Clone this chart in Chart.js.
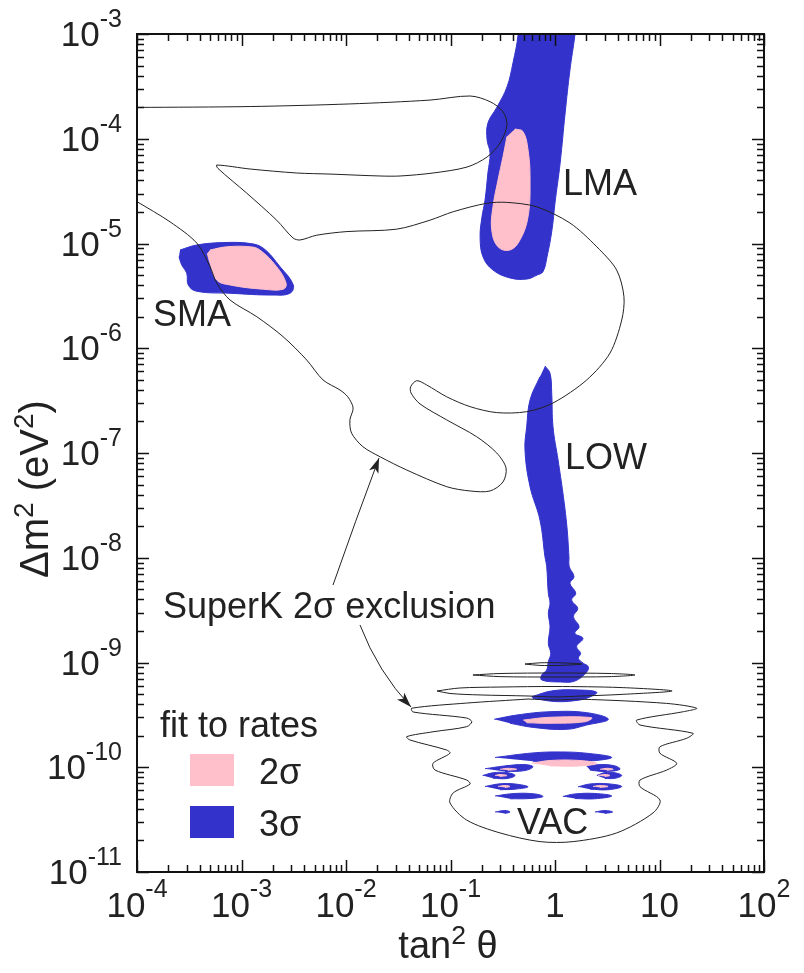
<!DOCTYPE html>
<html>
<head>
<meta charset="utf-8">
<script src="https://cdn.jsdelivr.net/npm/chart.js@4.4.1/dist/chart.umd.min.js"></script>
<style>
  body { margin: 0; background: #fff; }
  #wrap { width: 804px; height: 973px; position: relative; }
</style>
</head>
<body>
<div id="wrap"><canvas id="grafico"></canvas></div>
<script>
// ejes (tan^2 theta, delta m^2)
const xTicks = [1e-4, 1e-3, 1e-2, 1e-1, 1, 10, 100];
const xTickLabels = [['10', '-4'], ['10', '-3'], ['10', '-2'], ['10', '-1'], ['1', ''], ['10', ''], ['10', '2']];
const yTicks = [1e-3, 1e-4, 1e-5, 1e-6, 1e-7, 1e-8, 1e-9, 1e-10, 1e-11];
const yTickLabels = [['10', '-3'], ['10', '-4'], ['10', '-5'], ['10', '-6'], ['10', '-7'], ['10', '-8'], ['10', '-9'], ['10', '-10'], ['10', '-11']];

// regiones permitidas [tan2, dm2]
const smaTres = [[2.58e-4, 8.67e-6], [3.73e-4, 9.67e-6], [6.65e-4, 1.02e-5], [1.21e-3, 1.0e-5], [1.62e-3, 9.0e-6], [2.34e-3, 6.0e-6], [3.13e-3, 4.02e-6], [2.91e-3, 3.35e-6], [2e-3, 3.22e-6], [7.76e-4, 3.35e-6], [3.73e-4, 3.5e-6], [3.1e-4, 4.0e-6], [2.99e-4, 5.2e-6], [2.68e-4, 6.24e-6], [2.52e-4, 7.48e-6]];
const smaDos = [[5e-4, 8.67e-6], [7.21e-4, 9.3e-6], [1.21e-3, 9.3e-6], [1.5e-3, 8.67e-6], [2.17e-3, 6e-6], [2.67e-3, 4.17e-6], [2.51e-3, 3.66e-6], [1.62e-3, 3.66e-6], [7.76e-4, 4.02e-6], [5.79e-4, 4.48e-6], [5e-4, 6.47e-6], [4.71e-4, 8.06e-6]];
const lmaTres = [[4.43e-1, 1.4e-3], [4.43e-1, 9.78e-4], [3.96e-1, 5.29e-4], [3.47e-1, 3.12e-4], [2.79e-1, 2.01e-4], [2.28e-1, 1.41e-4], [2.24e-1, 9.73e-5], [2.39e-1, 7.31e-5], [2.28e-1, 4.71e-5], [2.14e-1, 2.6e-5], [2e-1, 1.79e-5], [1.92e-1, 1.15e-5], [2.05e-1, 7.43e-6], [2.55e-1, 5.58e-6], [3.71e-1, 4.69e-6], [5.4e-1, 4.58e-6], [6.73e-1, 5e-6], [7.67e-1, 5.38e-6], [8.38e-1, 7.43e-6], [9.36e-1, 1.35e-5], [1, 2.44e-5], [1.12, 5.86e-5], [1.25, 1.76e-4], [1.39, 4.53e-4], [1.55, 9.78e-4], [1.59, 1.4e-3]];
const lmaDos = [[4.14e-1, 1.24e-4], [4.94e-1, 1.17e-4], [5.52e-1, 7.81e-5], [5.77e-1, 4.04e-5], [5.52e-1, 1.8e-5], [4.62e-1, 1.08e-5], [3.71e-1, 8.67e-6], [2.85e-1, 9.3e-6], [2.48e-1, 1.35e-5], [2.55e-1, 2.24e-5], [2.85e-1, 4.04e-5], [3.18e-1, 6.74e-5], [3.47e-1, 1.05e-4]];
const lowTres = [[8.02e-1, 6.77e-7], [8.96e-1, 5.77e-7], [9.3e-1, 3.74e-7], [9.57e-1, 1.78e-7], [1.07, 8.57e-8], [1.19, 4.15e-8], [1.3, 1.98e-8], [1.36, 1.02e-8], [1.37, 8.22e-9], [1.52, 6.59e-9], [1.39, 5.7e-9], [1.58, 4.58e-9], [1.44, 3.95e-9], [1.65, 3.29e-9], [1.5, 2.74e-9], [1.7, 2.2e-9], [1.55, 1.9e-9], [1.85, 1.7e-9], [1.61, 1.42e-9], [1.76, 1.22e-9], [1.67, 1.1e-9], [1.87, 9.82e-10], [2.08, 9.12e-10], [2.01, 8.11e-10], [1.55, 6.65e-10], [1.12, 6.52e-10], [7.46e-1, 6.81e-10], [7.46e-1, 7.6e-10], [8.33e-1, 8.48e-10], [8.63e-1, 1.02e-9], [9.1e-1, 1.22e-9], [8.63e-1, 1.52e-9], [8.96e-1, 2.2e-9], [8.63e-1, 2.95e-9], [8.96e-1, 3.67e-9], [8.63e-1, 4.58e-9], [8.33e-1, 8.22e-9], [8.02e-1, 1.02e-8], [7.18e-1, 2.29e-8], [5.77e-1, 4.77e-8], [5.16e-1, 1.07e-7], [5.36e-1, 1.78e-7], [5.77e-1, 3.21e-7], [7.18e-1, 5.35e-7]];

// islas de vacio
const vacTres = [
  [[5.98e-1, 4.72e-10], [9.57e-1, 5.38e-10], [1.73, 5.46e-10], [2.51, 5.2e-10], [2.16, 4.69e-10], [1.73, 4.39e-10], [1.04, 4.23e-10], [6.15e-1, 4.55e-10]],
  [[2.62e-1, 2.87e-10], [4.3e-1, 3.15e-10], [8.96e-1, 3.39e-10], [2.01, 3.32e-10], [3.24, 2.87e-10], [2.01, 2.53e-10], [1.29, 2.3e-10], [6.2e-1, 2.4e-10], [3.71e-1, 2.63e-10]],
  [[2.67e-1, 1.24e-10], [6.15e-1, 1.37e-10], [1.12, 1.4e-10], [2.02, 1.36e-10], [3.49, 1.24e-10], [2.02, 1.14e-10], [1.12, 1.13e-10], [6.15e-1, 1.14e-10]],
  [[2.14e-1, 9.68e-11], [3.32e-1, 1.03e-10], [5.16e-1, 1.06e-10], [6.15e-1, 1.01e-10], [5.16e-1, 9.3e-11], [3.32e-1, 9.1e-11]],
  [[2.01, 1.02e-10], [2.7, 1.06e-10], [3.75, 1.03e-10], [4.19, 9.56e-11], [3.01, 9.1e-11], [2.16, 9.4e-11]],
  [[2.03e-1, 8.34e-11], [2.55e-1, 8.85e-11], [3.47e-1, 8.9e-11], [4.14e-1, 8.34e-11], [3.47e-1, 7.8e-11], [2.55e-1, 7.85e-11]],
  [[2.51, 8.34e-11], [3.01, 8.9e-11], [3.75, 8.85e-11], [4.35, 8.34e-11], [3.75, 7.85e-11], [3.01, 7.8e-11]],
  [[2.14e-1, 6.55e-11], [2.98e-1, 6.95e-11], [4.14e-1, 6.92e-11], [5.52e-1, 6.5e-11], [4.14e-1, 6.18e-11], [2.98e-1, 6.1e-11]],
  [[1.66, 6.5e-11], [2.16, 6.92e-11], [3.22, 6.95e-11], [4.35, 6.55e-11], [3.22, 6.1e-11], [2.16, 6.18e-11]],
  [[2.67e-1, 5.32e-11], [4.14e-1, 5.62e-11], [6.44e-1, 5.56e-11], [7.67e-1, 5.26e-11], [5.77e-1, 5.03e-11], [3.71e-1, 5.0e-11]],
  [[1.19, 5.26e-11], [1.55, 5.56e-11], [2.41, 5.62e-11], [3.49, 5.32e-11], [2.41, 5.0e-11], [1.55, 5.03e-11]],
  [[2.67e-1, 3.74e-11], [3.32e-1, 3.86e-11], [3.71e-1, 3.74e-11], [3.32e-1, 3.62e-11]],
  [[2.41, 3.74e-11], [3.01, 3.86e-11], [3.56, 3.74e-11], [3.01, 3.62e-11]]
];
const vacDos = [
  [[4.97e-1, 2.82e-10], [8.96e-1, 3.0e-10], [2.24, 2.97e-10], [1.94, 2.72e-10], [8.96e-1, 2.63e-10], [5.36e-1, 2.66e-10]],
  [[5.98e-1, 1.09e-10], [8.96e-1, 1.16e-10], [1.73, 1.16e-10], [2.51, 1.09e-10], [1.73, 1.03e-10], [8.96e-1, 1.03e-10]],
  [[2.98e-1, 9.56e-11], [3.55e-1, 9.77e-11], [4.3e-1, 9.56e-11], [3.55e-1, 9.35e-11]],
  [[2.7, 9.56e-11], [3.15, 9.77e-11], [3.61, 9.56e-11], [3.15, 9.35e-11]],
  [[2.67e-1, 8.34e-11], [2.98e-1, 8.53e-11], [3.47e-1, 8.34e-11], [2.98e-1, 8.16e-11]],
  [[2.58, 8.34e-11], [3.01, 8.53e-11], [3.36, 8.34e-11], [3.01, 8.16e-11]],
  [[2.85e-1, 6.55e-11], [3.32e-1, 6.7e-11], [3.71e-1, 6.55e-11], [3.32e-1, 6.41e-11]],
  [[2.31, 6.55e-11], [2.7, 6.7e-11], [3.22, 6.55e-11], [2.7, 6.41e-11]]
];

// contorno de exclusion SuperK 2 sigma
const superkArriba = [[1e-4, 1.99e-4], [1.21e-3, 2.03e-4], [1.09e-2, 2.15e-4], [6.37e-2, 2.34e-4], [1.54e-1, 2.56e-4], [2.39e-1, 2.26e-4], [3.18e-1, 1.81e-4], [3.47e-1, 1.35e-4], [2.98e-1, 9.1e-5], [2.24e-1, 6.7e-5], [1.44e-1, 5.37e-5], [6.8e-2, 4.71e-5], [3.29e-2, 4.41e-5], [2.12e-2, 4.41e-5], [7.03e-3, 4.6e-5], [3.38e-3, 4.71e-5], [1.21e-3, 5.14e-5], [5.79e-4, 5.61e-5], [5.96e-4, 5.2e-5], [1.12e-3, 3.03e-5], [2.17e-3, 1.67e-5], [3.11e-3, 1.13e-5], [3.63e-3, 1.08e-5], [5.24e-3, 1.2e-5], [1.02e-2, 1.3e-5], [3.05e-2, 1.37e-5], [6.37e-2, 1.67e-5], [1.06e-1, 2.01e-5], [2.22e-1, 2.42e-5], [3.45e-1, 2.47e-5], [6.68e-1, 2.24e-5], [1.39, 1.57e-5], [2.51, 9.3e-6], [3.89, 5.58e-6], [4.57, 3.1e-6], [4.35, 1.86e-6], [3.36, 9.0e-7], [2.01, 4.98e-7], [9.57e-1, 3.0e-7], [5.36e-1, 2.48e-7], [2.77e-1, 2.43e-7], [1.54e-1, 2.77e-7], [9.2e-2, 3.44e-7], [5.92e-2, 4.46e-7], [4.75e-2, 4.9e-7], [4.16e-2, 4.3e-7], [4.19e-2, 3.74e-7], [5.11e-2, 2.94e-7], [9.2e-2, 2.07e-7], [1.78e-1, 1.43e-7], [2.77e-1, 1e-7], [3.4e-1, 7.19e-8], [3.18e-1, 5.29e-8], [2.39e-1, 4.34e-8], [1.54e-1, 4.34e-8], [9.2e-2, 4.77e-8], [3.81e-2, 6.88e-8], [2.12e-2, 9.2e-8], [1.45e-2, 1.15e-7], [1.13e-2, 1.55e-7], [1.09e-2, 2.07e-7], [1.17e-2, 2.69e-7], [1.04e-2, 3.44e-7], [8.77e-3, 3.99e-7], [6.03e-3, 4.98e-7], [4.21e-3, 7.72e-7], [2.5e-3, 1.29e-6], [1.4e-3, 2.0e-6], [7.76e-4, 2.89e-6], [5.79e-4, 4.2e-6], [5.0e-4, 6.0e-6], [3.73e-4, 1.01e-5], [2.07e-4, 1.61e-5], [1e-4, 2.51e-5]];
const superkLazos = [
  [[5.16e-1, 9.67e-10], [7.18e-1, 9.93e-10], [1.12, 9.93e-10], [1.81, 9.67e-10], [1.12, 9.38e-10], [7.18e-1, 9.38e-10]],
  [[1.64e-1, 7.6e-10], [2.98e-1, 7.85e-10], [1, 7.94e-10], [3.36, 7.85e-10], [5.83, 7.6e-10], [3.36, 7.33e-10], [1, 7.27e-10], [2.98e-1, 7.33e-10]],
  [[7.43e-2, 5.35e-10], [1.23e-1, 5.71e-10], [2.98e-1, 5.83e-10], [1, 5.9e-10], [4.19, 5.77e-10], [13.2, 5.35e-10], [4.19, 4.95e-10], [1.81, 4.79e-10], [1, 4.69e-10], [5.52e-1, 4.79e-10], [1.92e-1, 4.9e-10], [9.89e-2, 5.06e-10]],
  [[5.52e-1, 4.48e-10], [1.43e-1, 4.1e-10], [4.25e-2, 3.66e-10], [4.38e-2, 3.37e-10], [1.43e-1, 2.95e-10], [1.6e-1, 2.72e-10], [1.43e-1, 2.44e-10], [6.8e-2, 2.18e-10], [3.81e-2, 1.96e-10], [4.1e-2, 1.82e-10], [9.2e-2, 1.46e-10], [9.89e-2, 1.36e-10], [6.8e-2, 1.09e-10], [7.11e-2, 9.4e-11], [1.43e-1, 7.55e-11], [1.54e-1, 6.92e-11], [1.06e-1, 5.68e-11], [9.89e-2, 4.56e-11], [1.43e-1, 3.13e-11], [2.98e-1, 2.36e-11], [7.18e-1, 1.95e-11], [1.49, 1.95e-11], [3.89, 2.36e-11], [8.67, 3.66e-11], [10.1, 4.87e-11], [6.51, 6.52e-11], [6.51, 7.55e-11], [11.7, 9.4e-11], [14.6, 1.09e-10], [10.1, 1.36e-10], [10.1, 1.57e-10], [18.2, 1.89e-10], [20.9, 2.11e-10], [6.51, 2.53e-10], [6.05, 2.82e-10], [16.9, 3.39e-10], [22.7, 3.66e-10], [11.7, 4.07e-10], [1.8, 4.46e-10], [1, 4.39e-10]]
];

const AZUL = 'rgb(51, 51, 204)';
const ROSA = 'rgb(255, 192, 203)';
const TINTA = '#222';
const FUENTE = '"Liberation Sans", Arial, Helvetica, sans-serif';

function region(puntos, color, orden) {
  return {
    data: puntos.map(p => ({ x: p[0], y: p[1] })),
    showLine: true,
    fill: 'shape',
    backgroundColor: color,
    borderColor: color,
    borderWidth: 1,
    pointRadius: 0,
    tension: 0.4,
    order: orden
  };
}

function contorno(puntos, cerrado) {
  const pts = cerrado ? puntos.concat([puntos[0]]) : puntos;
  return {
    data: pts.map(p => ({ x: p[0], y: p[1] })),
    showLine: true,
    fill: false,
    borderColor: TINTA,
    borderWidth: 1,
    pointRadius: 0,
    tension: 0.3,
    order: 0
  };
}

const datasets = [];
[smaTres, lmaTres, lowTres].concat(vacTres).forEach(r => datasets.push(region(r, AZUL, 2)));
[smaDos, lmaDos].concat(vacDos).forEach(r => datasets.push(region(r, ROSA, 1)));
datasets.push(contorno(superkArriba, false));
superkLazos.forEach(l => datasets.push(contorno(l, true)));

function textoPot(ctx, base, sup, x, y, align, tam, tamSup, subida) {
  ctx.font = tam + 'px ' + FUENTE;
  const wb = ctx.measureText(base).width;
  ctx.font = tamSup + 'px ' + FUENTE;
  const ws = sup ? ctx.measureText(sup).width : 0;
  const w = wb + ws;
  let x0 = x;
  if (align === 'right') x0 = x - w;
  if (align === 'center') x0 = x - w / 2;
  ctx.textAlign = 'left';
  ctx.textBaseline = 'alphabetic';
  ctx.font = tam + 'px ' + FUENTE;
  ctx.fillText(base, x0, y);
  if (sup) {
    ctx.font = tamSup + 'px ' + FUENTE;
    ctx.fillText(sup, x0 + wb, y - subida);
  }
}

// tramos: [texto, esSuperindice]
function textoTramos(ctx, tramos, x, y, tam) {
  let ancho = 0;
  tramos.forEach(t => {
    ctx.font = (t[1] ? tam * 0.7 : tam) + 'px ' + FUENTE;
    ancho += ctx.measureText(t[0]).width;
  });
  let cx = x - ancho / 2;
  ctx.textAlign = 'left';
  ctx.textBaseline = 'alphabetic';
  tramos.forEach(t => {
    ctx.font = (t[1] ? tam * 0.7 : tam) + 'px ' + FUENTE;
    ctx.fillText(t[0], cx, t[1] ? y - tam * 0.38 : y);
    cx += ctx.measureText(t[0]).width;
  });
}

function flecha(ctx, x0, y0, cx, cy, x1, y1) {
  ctx.beginPath();
  ctx.moveTo(x0, y0);
  ctx.quadraticCurveTo(cx, cy, x1, y1);
  ctx.stroke();
  const ang = Math.atan2(y1 - cy, x1 - cx);
  const L = 15, W = 5;
  ctx.beginPath();
  ctx.moveTo(x1, y1);
  ctx.lineTo(x1 - L * Math.cos(ang) + W * Math.sin(ang), y1 - L * Math.sin(ang) - W * Math.cos(ang));
  ctx.lineTo(x1 - L * 0.75 * Math.cos(ang), y1 - L * 0.75 * Math.sin(ang));
  ctx.lineTo(x1 - L * Math.cos(ang) - W * Math.sin(ang), y1 - L * Math.sin(ang) + W * Math.cos(ang));
  ctx.closePath();
  ctx.fill();
}

const ejes = {
  id: 'ejes',
  afterDraw(chart) {
    const ctx = chart.ctx;
    const a = chart.chartArea;
    const sx = chart.scales.x;
    const sy = chart.scales.y;
    ctx.save();
    ctx.strokeStyle = '#111';
    ctx.fillStyle = TINTA;

    // marcas menores y mayores, hacia dentro
    ctx.lineWidth = 1.5;
    const marcasX = [];
    for (let i = 0; i < xTicks.length - 1; i++) {
      for (let k = 1; k <= 9; k++) marcasX.push([k * xTicks[i], k === 1]);
    }
    marcasX.push([xTicks[xTicks.length - 1], true]);
    marcasX.forEach(m => {
      const px = Math.round(sx.getPixelForValue(m[0])) + 0.5;
      const len = m[1] ? 12 : 7;
      ctx.beginPath();
      ctx.moveTo(px, a.bottom); ctx.lineTo(px, a.bottom - len);
      ctx.moveTo(px, a.top); ctx.lineTo(px, a.top + len);
      ctx.stroke();
    });
    const marcasY = [[yTicks[0], true]];
    for (let i = 1; i < yTicks.length; i++) {
      for (let k = 1; k <= 9; k++) marcasY.push([k * yTicks[i], k === 1]);
    }
    marcasY.forEach(m => {
      const py = Math.round(sy.getPixelForValue(m[0])) + 0.5;
      const len = m[1] ? 12 : 7;
      ctx.beginPath();
      ctx.moveTo(a.left, py); ctx.lineTo(a.left + len, py);
      ctx.moveTo(a.right, py); ctx.lineTo(a.right - len, py);
      ctx.stroke();
    });

    ctx.lineWidth = 2;
    ctx.strokeRect(a.left, a.top, a.right - a.left, a.bottom - a.top);

    // etiquetas de las marcas
    xTicks.forEach((v, i) => {
      const px = sx.getPixelForValue(v);
      textoPot(ctx, xTickLabels[i][0], xTickLabels[i][1], px, 917, 'center', 35, 25, 20);
    });
    yTicks.forEach((v, i) => {
      const py = sy.getPixelForValue(v);
      textoPot(ctx, yTickLabels[i][0], yTickLabels[i][1], 122, py + 12, 'right', 35, 25, 19);
    });

    // titulos de los ejes
    textoTramos(ctx, [['tan', false], ['2', true], [' \u03B8', false]], 448, 958, 38);
    ctx.save();
    ctx.translate(48, 489);
    ctx.rotate(-Math.PI / 2);
    textoTramos(ctx, [['\u0394m', false], ['2', true], [' (eV', false], ['2', true], [')', false]], 0, 0, 40);
    ctx.restore();

    // nombres de las regiones
    ctx.font = '36px ' + FUENTE;
    ctx.textAlign = 'left';
    ctx.fillText('LMA', 563, 195);
    ctx.fillText('SMA', 153, 326);
    ctx.fillText('LOW', 565, 469);
    ctx.fillText('VAC', 517, 834);
    ctx.fillText('SuperK 2\u03C3 exclusion', 163, 618);

    // flechas
    ctx.lineWidth = 1;
    ctx.strokeStyle = TINTA;
    flecha(ctx, 333, 585, 355, 522, 379, 458);
    flecha(ctx, 360, 625, 378, 672, 411, 707);

    // leyenda
    ctx.fillStyle = TINTA;
    ctx.fillText('fit to rates', 160, 737);
    ctx.fillStyle = ROSA;
    ctx.fillRect(190, 754, 44, 32);
    ctx.fillStyle = AZUL;
    ctx.fillRect(190, 806, 44, 32);
    ctx.fillStyle = TINTA;
    ctx.fillText('2\u03C3', 259, 784);
    ctx.fillText('3\u03C3', 259, 836);
    ctx.restore();
  }
};

new Chart(document.getElementById('grafico').getContext('2d'), {
  type: 'scatter',
  data: { datasets: datasets },
  options: {
    responsive: true,
    maintainAspectRatio: false,
    animation: false,
    layout: { padding: { left: 137, right: 40, top: 34, bottom: 101 } },
    plugins: { legend: { display: false }, tooltip: { enabled: false } },
    scales: {
      x: { type: 'logarithmic', min: 1e-4, max: 100, display: false },
      y: { type: 'logarithmic', min: 1e-11, max: 1e-3, display: false }
    }
  },
  plugins: [ejes]
});
</script>
</body>
</html>
